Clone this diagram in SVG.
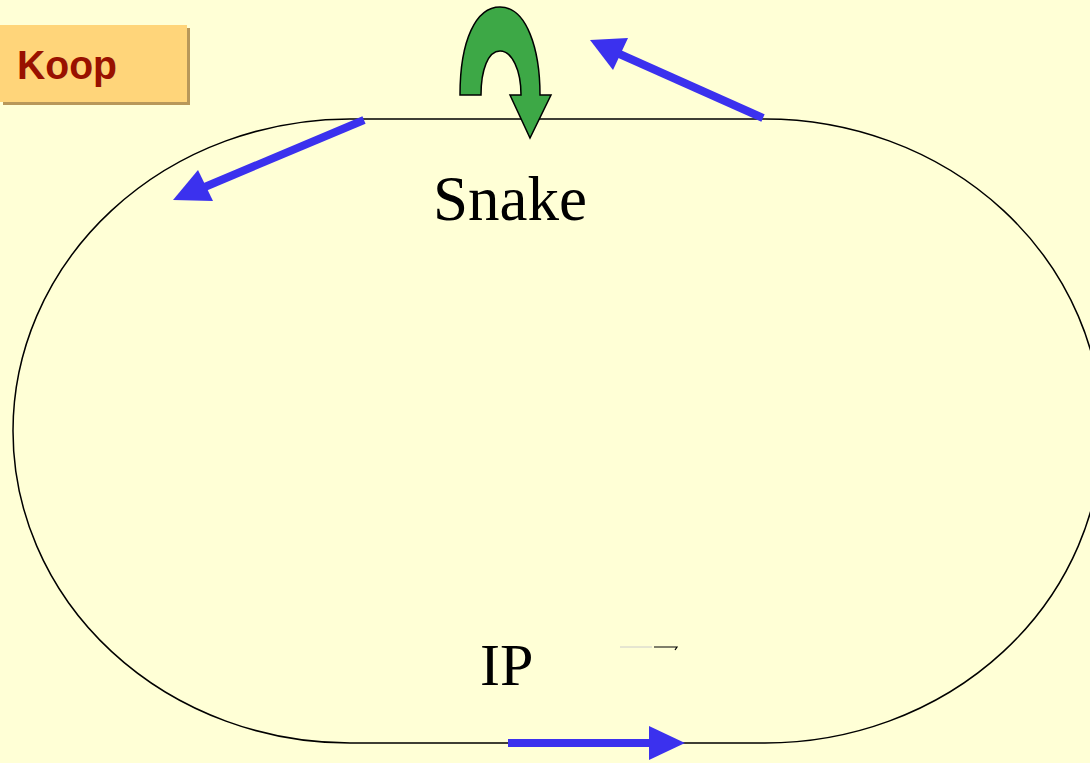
<svg xmlns="http://www.w3.org/2000/svg" width="1090" height="763" viewBox="0 0 1090 763">
  <defs>
    <style>
      .label { font-family: "Liberation Serif", "Times New Roman", serif; fill: #000; }
      .blue { fill: #3B31EE; }
      .track { fill: none; stroke: #000; stroke-width: 1.5; }
    </style>
  </defs>
  <rect x="0" y="0" width="1090" height="763" fill="#FFFFD6"/>
  <g id="koop">
    <rect x="3" y="28" width="187" height="77" fill="#B8985A"/>
    <rect x="0" y="25" width="187" height="77" fill="#FFD57A"/>
    <text x="17" y="79" font-family="'Liberation Sans', Arial, sans-serif" font-weight="bold" font-size="41" fill="#991100" textLength="100" lengthAdjust="spacingAndGlyphs">Koop</text>
  </g>
  <g id="track">
    <path class="track" d="M350,119 H765 A337,312 0 0 1 765,743 H350 A337,312 0 0 1 350,119 Z"/>
  </g>
  <g id="snake">
    <text class="label" x="433" y="220" font-size="63">Snake</text>
  </g>
  <g id="ip">
    <text class="label" x="480" y="685" font-size="60">IP</text>
    <line x1="620" y1="647" x2="652" y2="647" stroke="#cccccc" stroke-width="1"/>
    <path d="M654,647 H677 L675,650" fill="none" stroke="#000" stroke-width="1.2"/>
  </g>
  <g id="connectors">
    <path d="M460,95 C460,40 476,7 500,7 C527,7 540,50 540,95 L551,95 L530,138 L510,95 L521,95 C521,70 512,51 500,51 C488,51 481,70 481,95 Z" fill="#3DA846" stroke="#000" stroke-width="1.5" stroke-linejoin="miter"/>
    <line x1="763" y1="118" x2="615" y2="52" stroke="#3B31EE" stroke-width="8"/>
    <polygon class="blue" points="590,40 628,38 613,70"/>
    <line x1="364" y1="120" x2="200" y2="189" stroke="#3B31EE" stroke-width="8"/>
    <polygon class="blue" points="173,200 198,170 213,201"/>
    <line x1="508" y1="743" x2="652" y2="743" stroke="#3B31EE" stroke-width="8"/>
    <polygon class="blue" points="649,726 685,743 649,760"/>
  </g>
</svg>
